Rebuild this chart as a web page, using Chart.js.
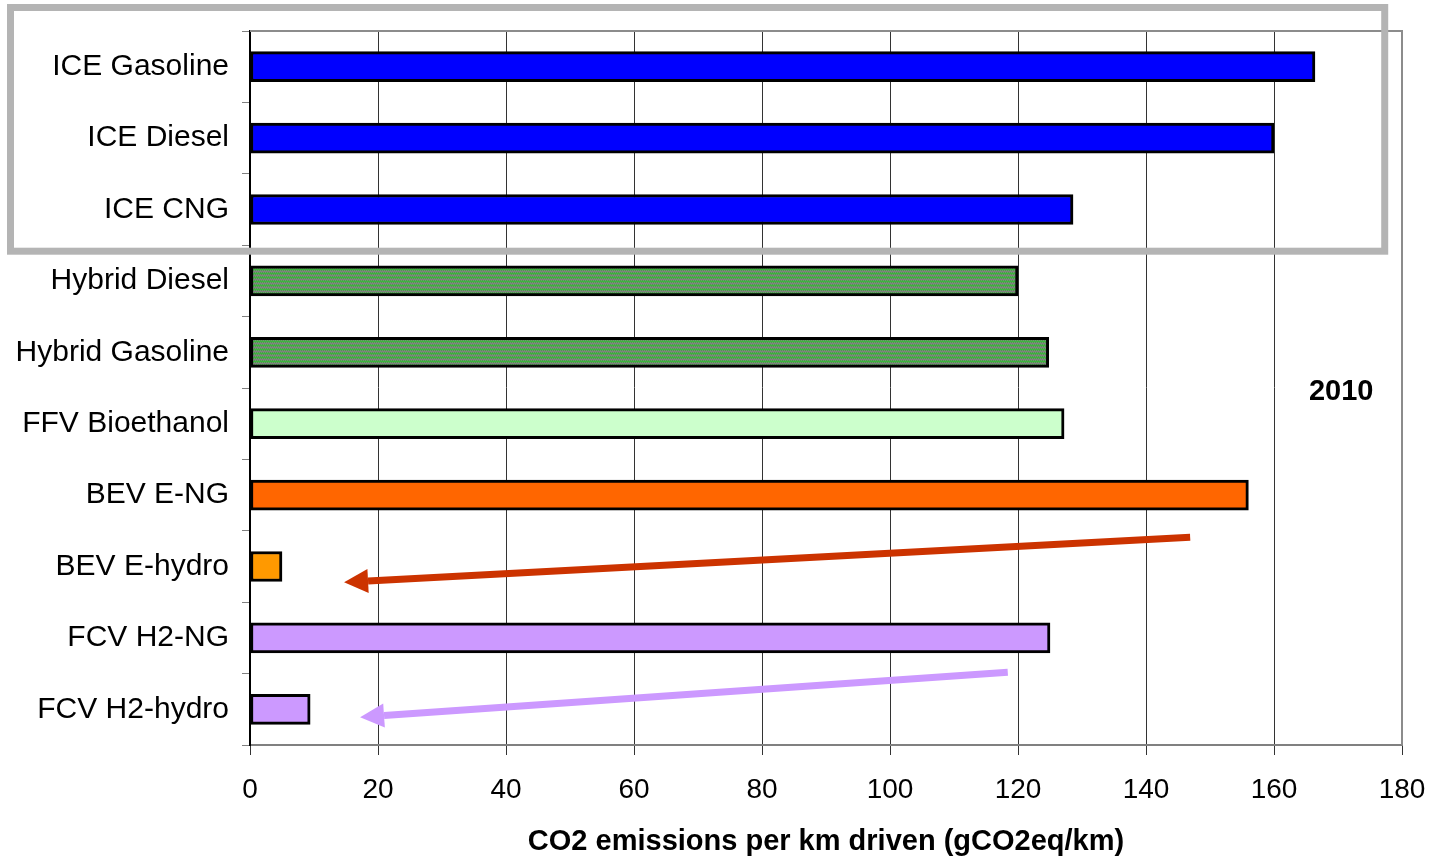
<!DOCTYPE html>
<html>
<head>
<meta charset="utf-8">
<script src="https://cdn.jsdelivr.net/npm/chart.js@4/dist/chart.umd.min.js"></script>
<style>
  html, body { margin: 0; padding: 0; background: #fff; }
  #wrap { width: 1433px; height: 856px; }
</style>
</head>
<body>
<div id="wrap"><canvas id="chart"></canvas></div>
<script>
const categories = ['ICE Gasoline', 'ICE Diesel', 'ICE CNG', 'Hybrid Diesel', 'Hybrid Gasoline',
  'FFV Bioethanol', 'BEV E-NG', 'BEV E-hydro', 'FCV H2-NG', 'FCV H2-hydro'];
const emissions = [166.4, 160, 128.6, 120, 124.8, 127.2, 156, 5, 125, 9.4];
const xTicks = [0, 20, 40, 60, 80, 100, 120, 140, 160, 180];
const yearLabel = '2010';
const axisTitle = 'CO2 emissions per km driven (gCO2eq/km)';

// arrows in data units: [x from, category index from, x to, category index to]
const arrowRed = [146.9, 6.59, 14.7, 7.22];
const arrowPurple = [118.4, 8.48, 17.2, 9.11];

const FONT = '"Liberation Sans", Arial, sans-serif';

function hatch() {
  const c = document.createElement('canvas');
  c.width = 4; c.height = 4;
  const g = c.getContext('2d');
  g.fillStyle = '#808080'; g.fillRect(0, 0, 4, 4);
  g.fillStyle = '#3cb43c';
  g.fillRect(0, 0, 1, 1); g.fillRect(2, 0, 1, 1);
  g.fillRect(1, 2, 1, 1); g.fillRect(3, 2, 1, 1);
  g.fillRect(0, 1, 4, 1);
  return g.createPattern(c, 'repeat');
}
const green = hatch();
const barColors = ['#0000ff', '#0000ff', '#0000ff', green, green, '#ccffcc',
  '#ff6600', '#ff9900', '#cc99ff', '#cc99ff'];

function drawArrow(ctx, xs, ys, a, color) {
  const x1 = xs.getPixelForValue(a[0]), y1 = ys.getPixelForValue(a[1]);
  const x2 = xs.getPixelForValue(a[2]), y2 = ys.getPixelForValue(a[3]);
  const ang = Math.atan2(y2 - y1, x2 - x1);
  const head = 24, half = 12;
  const bx = x2 - head * Math.cos(ang), by = y2 - head * Math.sin(ang);
  ctx.save();
  ctx.strokeStyle = color; ctx.fillStyle = color;
  ctx.lineWidth = 7;
  ctx.beginPath(); ctx.moveTo(x1, y1); ctx.lineTo(bx, by); ctx.stroke();
  ctx.beginPath();
  ctx.moveTo(x2, y2);
  ctx.lineTo(bx + half * Math.sin(ang), by - half * Math.cos(ang));
  ctx.lineTo(bx - half * Math.sin(ang), by + half * Math.cos(ang));
  ctx.closePath(); ctx.fill();
  ctx.restore();
}

const extras = {
  id: 'extras',
  beforeDatasetsDraw(chart) {
    const { ctx, chartArea: a } = chart;
    ctx.save();
    ctx.strokeStyle = '#8c8c8c'; ctx.lineWidth = 2;
    ctx.beginPath();
    ctx.moveTo(a.left, a.top); ctx.lineTo(a.right, a.top); ctx.lineTo(a.right, a.bottom);
    ctx.stroke();
    ctx.restore();
  },
  afterDraw(chart) {
    const { ctx } = chart;
    const xs = chart.scales.x, ys = chart.scales.y;
    drawArrow(ctx, xs, ys, arrowRed, '#cc3300');
    drawArrow(ctx, xs, ys, arrowPurple, '#cc99ff');

    ctx.save();
    ctx.font = 'bold 29px ' + FONT;
    ctx.fillStyle = '#000';
    ctx.textAlign = 'center'; ctx.textBaseline = 'middle';
    ctx.fillText(yearLabel, xs.getPixelForValue(170.5), ys.getPixelForValue(4.56));

    // grey frame round the ICE group
    const bottom = ys.getPixelForValue(2.5) + 6;
    ctx.strokeStyle = '#b4b4b4'; ctx.lineWidth = 7;
    ctx.strokeRect(10.5, 7.5, xs.getPixelForValue(177.3) - 10.5, bottom - 7.5);
    ctx.restore();
  }
};

new Chart(document.getElementById('chart'), {
  type: 'bar',
  data: {
    labels: categories,
    datasets: [{
      data: emissions,
      backgroundColor: barColors,
      borderColor: '#000',
      borderWidth: 3,
      borderSkipped: false,
      barThickness: 30
    }]
  },
  options: {
    indexAxis: 'y',
    responsive: true,
    maintainAspectRatio: false,
    animation: false,
    layout: { padding: { top: 29, right: 31, left: 0, bottom: 0 } },
    plugins: { legend: { display: false }, tooltip: { enabled: false } },
    scales: {
      x: {
        min: 0, max: 180,
        afterBuildTicks: s => { s.ticks = xTicks.map(v => ({ value: v })); },
        afterFit: s => { s.height = 111; s.paddingRight = 0; s.paddingLeft = 0; },
        grid: { color: '#333', lineWidth: 1, tickLength: 10 },
        border: { color: '#808080', width: 2 },
        ticks: { color: '#000', font: { family: FONT, size: 28 }, padding: 18 },
        title: {
          display: true, text: axisTitle, color: '#000',
          font: { family: FONT, size: 29, weight: 'bold' },
          padding: { top: 0, bottom: -3 }
        }
      },
      y: {
        afterFit: s => { s.width = 250; },
        grid: { drawOnChartArea: false, color: '#808080', tickLength: 8, offset: true },
        border: { color: '#000', width: 2 },
        ticks: { color: '#000', font: { family: FONT, size: 30 }, padding: 13 }
      }
    }
  },
  plugins: [extras]
});
</script>
</body>
</html>
